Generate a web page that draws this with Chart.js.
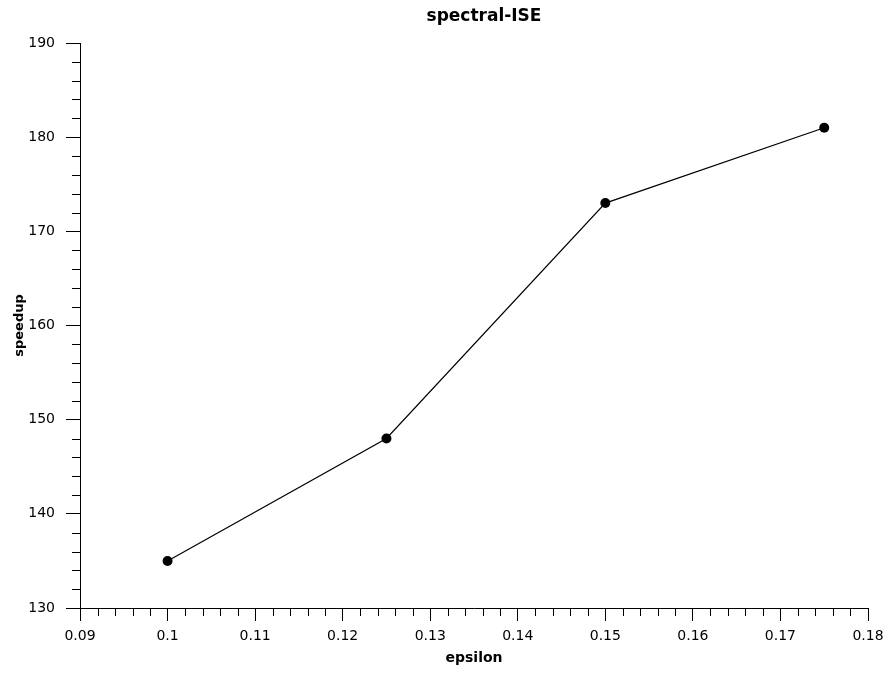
<!DOCTYPE html>
<html>
<head>
<meta charset="utf-8">
<script src="https://cdn.jsdelivr.net/npm/chart.js@4/dist/chart.umd.min.js"></script>
<style>
  html, body { margin: 0; padding: 0; background: #ffffff; }
  #wrap { width: 888px; height: 673px; }
</style>
</head>
<body>
<div id="wrap"><canvas id="c" width="888" height="673"></canvas></div>
<script>
// speedup of spectral-ISE for each epsilon
const epsilon = [0.1, 0.125, 0.15, 0.175];
const speedup = [135, 148, 173, 181];

// axis ticks
const xTicks = [0.09, 0.1, 0.11, 0.12, 0.13, 0.14, 0.15, 0.16, 0.17, 0.18];
const yTicks = [130, 140, 150, 160, 170, 180, 190];
const xMinorPerMajor = 5;
const yMinorPerMajor = 5;

const FONT = "'DejaVu Sans', Verdana, sans-serif";

// minor tick marks between the labelled ticks
const minorTicks = {
  id: 'minorTicks',
  afterDraw(chart) {
    const ctx = chart.ctx;
    const xs = chart.scales.x, ys = chart.scales.y;
    ctx.save();
    ctx.strokeStyle = '#000';
    ctx.lineWidth = 1;
    ctx.beginPath();
    for (let i = 0; i < xTicks.length - 1; i++) {
      const a = xTicks[i], b = xTicks[i + 1];
      for (let k = 1; k < xMinorPerMajor; k++) {
        const v = a + (b - a) * k / xMinorPerMajor;
        const px = Math.round(xs.getPixelForValue(v)) + 0.5;
        ctx.moveTo(px, xs.top);
        ctx.lineTo(px, xs.top + 8);
      }
    }
    for (let i = 0; i < yTicks.length - 1; i++) {
      const a = yTicks[i], b = yTicks[i + 1];
      for (let k = 1; k < yMinorPerMajor; k++) {
        const v = a + (b - a) * k / yMinorPerMajor;
        const py = Math.round(ys.getPixelForValue(v)) + 0.5;
        ctx.moveTo(ys.right, py);
        ctx.lineTo(ys.right - 8, py);
      }
    }
    ctx.stroke();
    ctx.restore();
  }
};

// centre the title a little right of the plot centre
const titleShift = {
  id: 'titleShift',
  afterLayout(chart) {
    const t = chart.titleBlock;
    if (t) {
      const target = 484;
      const d = target - (t.left + t.right) / 2;
      t.left += d; t.right += d;
    }
  }
};

new Chart(document.getElementById('c'), {
  type: 'line',
  data: {
    datasets: [{
      data: epsilon.map((e, i) => ({ x: e, y: speedup[i] })),
      borderColor: '#000',
      backgroundColor: '#000',
      borderWidth: 1.2,
      pointRadius: 5,
      pointHoverRadius: 5,
      pointBackgroundColor: '#000',
      pointBorderColor: '#000',
      pointBorderWidth: 0,
      tension: 0,
      fill: false
    }]
  },
  options: {
    responsive: false,
    animation: false,
    events: [],
    layout: { padding: { left: 0, right: 20, top: 0, bottom: 0 } },
    plugins: {
      legend: { display: false },
      tooltip: { enabled: false },
      title: {
        display: true,
        text: 'spectral-ISE',
        color: '#000',
        font: { family: FONT, size: 17, weight: 'bold' },
        padding: { top: 6, bottom: 16.6 }
      }
    },
    scales: {
      x: {
        type: 'linear',
        min: 0.09,
        max: 0.18,
        afterBuildTicks: s => { s.ticks = xTicks.map(v => ({ value: v })); },
        afterFit: s => { s.height = 65; s.paddingLeft = 0; s.paddingRight = 0; },
        grid: { drawOnChartArea: false, tickLength: 13, tickColor: '#000', tickWidth: 1 },
        border: { display: true, color: '#000', width: 1 },
        ticks: {
          color: '#000',
          padding: 7,
          maxRotation: 0,
          autoSkip: false,
          font: { family: FONT, size: 14 },
          callback: v => String(Math.round(v * 100) / 100)
        },
        title: {
          display: true,
          text: 'epsilon',
          color: '#000',
          font: { family: FONT, size: 14, weight: 'bold' },
          padding: { top: 2, bottom: 6 }
        }
      },
      y: {
        type: 'linear',
        min: 130,
        max: 190,
        afterBuildTicks: s => { s.ticks = yTicks.map(v => ({ value: v })); },
        afterFit: s => { s.width = 80; s.paddingTop = 0; s.paddingBottom = 0; },
        grid: { drawOnChartArea: false, tickLength: 14, tickColor: '#000', tickWidth: 1 },
        border: { display: true, color: '#000', width: 1 },
        ticks: {
          color: '#000',
          padding: 11,
          autoSkip: false,
          font: { family: FONT, size: 14 },
          callback: v => String(v)
        },
        title: {
          display: true,
          text: 'speedup',
          color: '#000',
          font: { family: FONT, size: 13, weight: 'bold' },
          padding: { top: 12, bottom: 2 }
        }
      }
    }
  },
  plugins: [minorTicks, titleShift]
});
</script>
</body>
</html>
